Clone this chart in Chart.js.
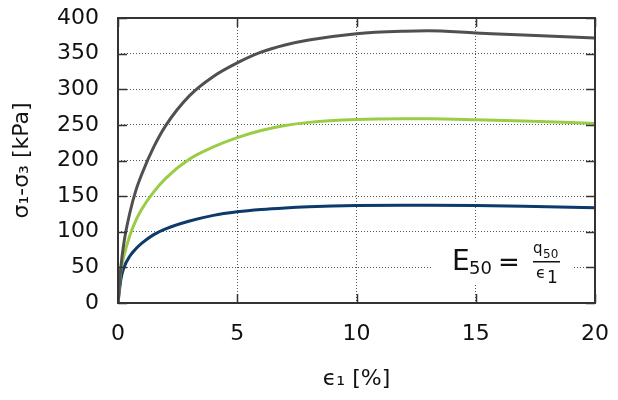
<!DOCTYPE html>
<html>
<head>
<meta charset="utf-8">
<script src="https://cdn.jsdelivr.net/npm/chart.js@4/dist/chart.umd.min.js"></script>
<style>
  html, body { margin: 0; padding: 0; background: #fff; }
  #wrap { width: 618px; height: 400px; }
</style>
</head>
<body>
<div id="wrap"><canvas id="c"></canvas></div>
<script>
// ── Data ────────────────────────────────────────────────────
var strain    = [0, 0.12, 0.25, 0.5, 0.75, 1, 1.5, 2, 3, 4, 5, 6, 7, 8, 10, 12, 13, 15, 17, 20];
var devGrey   = [0, 50, 85, 127, 158, 181, 219, 249, 291, 318, 337, 352, 362, 369, 378, 381.5, 382, 379, 376, 372];
var devGreen  = [0, 45, 66, 95, 116, 132, 156, 175, 202, 219, 232, 242, 249, 253.5, 257.5, 258.5, 258.5, 257.3, 255.5, 252];
var devBlue   = [0, 33, 50, 66, 76, 84, 96, 104, 115, 123, 128, 131.3, 133.5, 135, 136.7, 137.2, 137.2, 136.7, 135.7, 133.7];
var xTicks    = [0, 5, 10, 15, 20];
var yTicks    = [0, 50, 100, 150, 200, 250, 300, 350, 400];

var FONT = "'DejaVu Sans', sans-serif";
Chart.defaults.font.family = FONT;
Chart.defaults.color = '#111';

function pts(ys) {
  return strain.map(function(x, i) { return { x: x, y: ys[i] }; });
}

function ds(ys, color) {
  return {
    data: pts(ys),
    borderColor: color,
    borderWidth: 3,
    pointRadius: 0,
    fill: false,
    cubicInterpolationMode: 'monotone'
  };
}

// ── Frame, inward ticks and E50 note ────────────────────────
var framePlugin = {
  id: 'frame',
  beforeDatasetsDraw: function(chart) {
    var c = chart.ctx;
    c.save();
    c.fillStyle = '#fff';
    c.fillRect(432, 238, 140, 46);
    c.fillStyle = '#111';
    c.textBaseline = 'alphabetic';
    c.font = '28px ' + FONT;
    c.fillText('E', 452, 270);
    c.font = '18px ' + FONT;
    c.fillText('50', 469, 274);
    c.font = '26px ' + FONT;
    c.fillText('=', 498, 271);
    c.fillRect(533, 261, 27, 1.5);
    c.font = '15px ' + FONT;
    c.fillText('q', 533, 253);
    c.font = '12px ' + FONT;
    c.fillText('50', 543, 258);
    c.font = '16px ' + FONT;
    c.fillText('\u03F5', 536, 278);
    c.font = '17px ' + FONT;
    c.fillText('1', 547, 283);
    c.restore();
  },
  afterDraw: function(chart) {
    var c = chart.ctx, a = chart.chartArea;
    var sx = chart.scales.x, sy = chart.scales.y;
    var len = 9;
    c.save();
    c.strokeStyle = '#333';
    c.lineWidth = 1.5;
    c.beginPath();
    xTicks.forEach(function(v) {
      var p = Math.round(sx.getPixelForValue(v)) + 0.5;
      c.moveTo(p, a.bottom); c.lineTo(p, a.bottom - len);
      c.moveTo(p, a.top);    c.lineTo(p, a.top + len);
    });
    yTicks.forEach(function(v) {
      var p = Math.round(sy.getPixelForValue(v)) + 0.5;
      c.moveTo(a.left, p);  c.lineTo(a.left + len, p);
      c.moveTo(a.right, p); c.lineTo(a.right - len, p);
    });
    c.stroke();
    c.lineWidth = 2;
    c.strokeRect(a.left, a.top, a.right - a.left, a.bottom - a.top);
    c.restore();
  }
};

new Chart(document.getElementById('c'), {
  type: 'line',
  data: {
    datasets: [
      ds(devGrey,  '#505050'),
      ds(devGreen, '#9acd45'),
      ds(devBlue,  '#0b3a6b')
    ]
  },
  options: {
    responsive: true,
    maintainAspectRatio: false,
    animation: false,
    layout: { padding: { top: 18, right: 23, left: 0, bottom: 0 } },
    plugins: { legend: { display: false }, tooltip: { enabled: false } },
    scales: {
      x: {
        type: 'linear', min: 0, max: 20,
        afterBuildTicks: function(s) { s.ticks = xTicks.map(function(v) { return { value: v }; }); },
        afterFit: function(s) { s.height = 97; s.paddingLeft = 0; s.paddingRight = 0; },
        border: { display: false, dash: [1, 2] },
        grid: { color: '#555', drawTicks: false, lineWidth: 1 },
        ticks: { font: { size: 22 }, padding: 18, color: '#111', maxRotation: 0 },
        title: { display: true, text: '\u03F5\u2081 [%]', font: { size: 22 }, color: '#111', padding: { top: 0, bottom: 8 } }
      },
      y: {
        min: 0, max: 400,
        afterBuildTicks: function(s) { s.ticks = yTicks.map(function(v) { return { value: v }; }); },
        afterFit: function(s) { s.width = 118; s.paddingTop = 0; s.paddingBottom = 0; },
        border: { display: false, dash: [1, 2] },
        grid: { color: '#555', drawTicks: false, lineWidth: 1 },
        ticks: { font: { size: 22 }, padding: 19, color: '#111' },
        title: { display: true, text: '\u03C3\u2081-\u03C3\u2083 [kPa]', font: { size: 22 }, color: '#111', padding: { top: 9, bottom: 0 } }
      }
    }
  },
  plugins: [framePlugin]
});
</script>
</body>
</html>
